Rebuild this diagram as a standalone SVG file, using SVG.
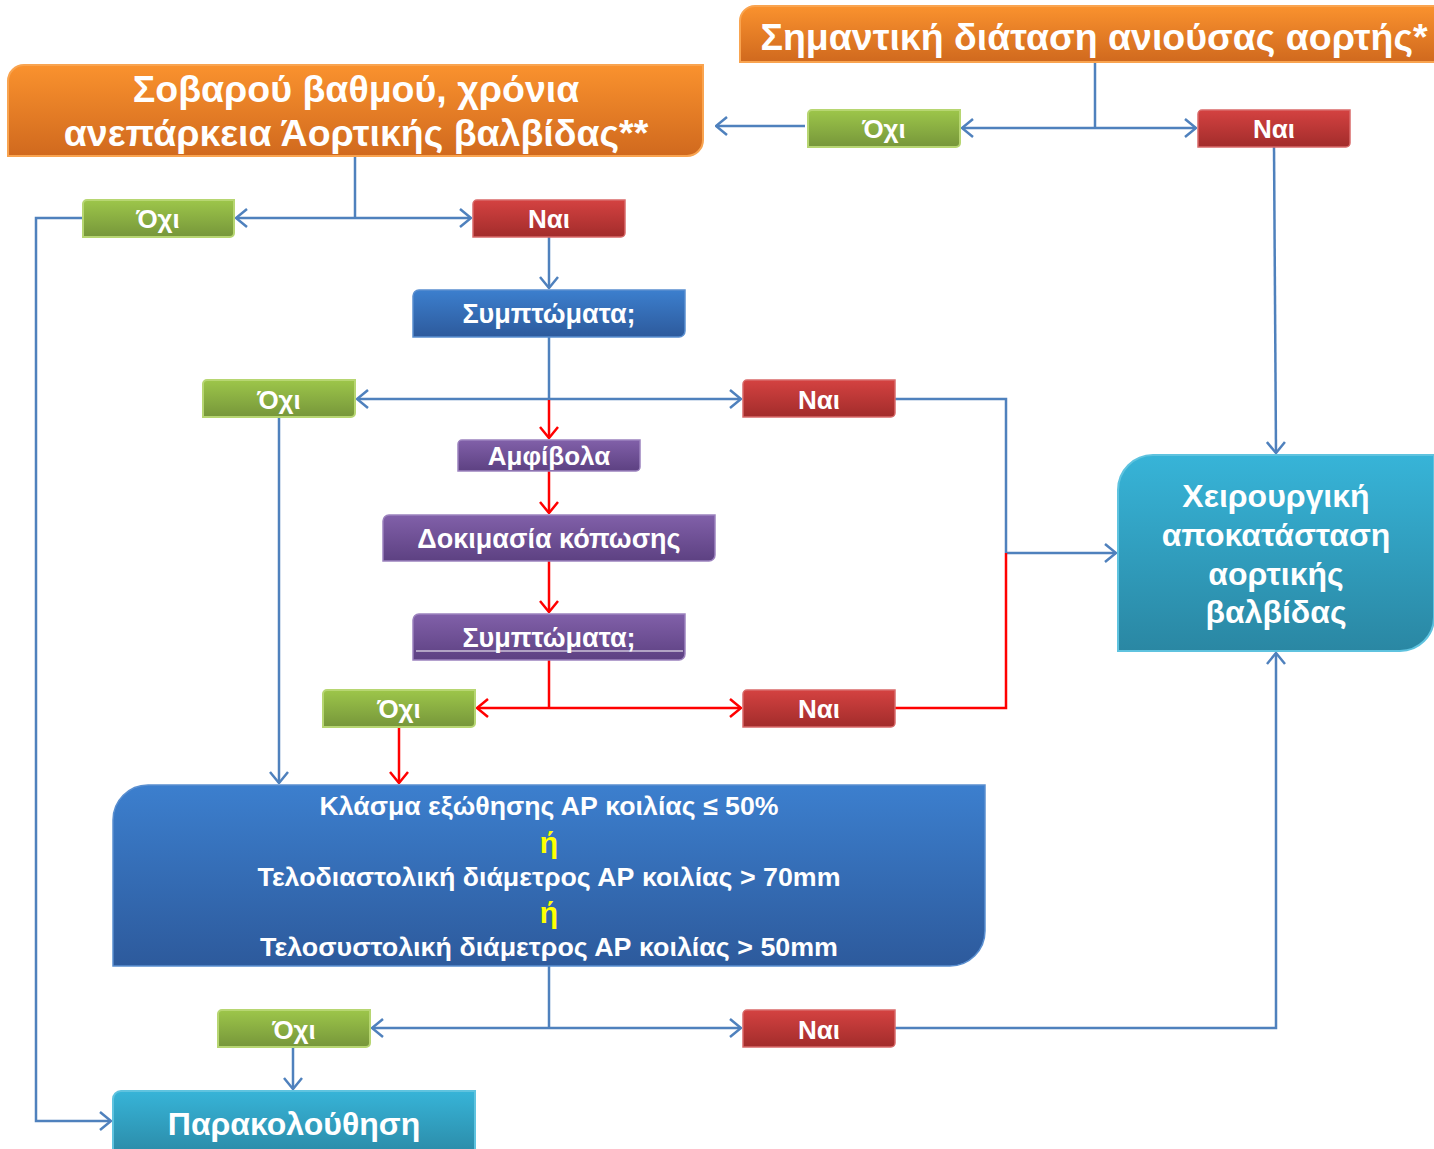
<svg xmlns="http://www.w3.org/2000/svg" width="1434" height="1149" viewBox="0 0 1434 1149">
<defs>
<linearGradient id="gOr" x1="0" y1="0" x2="0" y2="1"><stop offset="0" stop-color="#FA922E"/><stop offset="1" stop-color="#D0691E"/></linearGradient>
<linearGradient id="gGr" x1="0" y1="0" x2="0" y2="1"><stop offset="0" stop-color="#9DC64A"/><stop offset="1" stop-color="#76963A"/></linearGradient>
<linearGradient id="gRd" x1="0" y1="0" x2="0" y2="1"><stop offset="0" stop-color="#D44241"/><stop offset="1" stop-color="#A22C2B"/></linearGradient>
<linearGradient id="gBl" x1="0" y1="0" x2="0" y2="1"><stop offset="0" stop-color="#3C7FCE"/><stop offset="1" stop-color="#2D5A9C"/></linearGradient>
<linearGradient id="gPu" x1="0" y1="0" x2="0" y2="1"><stop offset="0" stop-color="#8160A9"/><stop offset="1" stop-color="#5D4182"/></linearGradient>
<linearGradient id="gTe" x1="0" y1="0" x2="0" y2="1"><stop offset="0" stop-color="#37B4D8"/><stop offset="1" stop-color="#2A87A3"/></linearGradient>
<marker id="aB" viewBox="0 0 13 20" refX="12" refY="10" markerWidth="13" markerHeight="20" markerUnits="userSpaceOnUse" orient="auto"><path d="M1,1 L12,10 L1,19" fill="none" stroke="#4F81BD" stroke-width="2.5"/></marker>
<marker id="aR" viewBox="0 0 13 20" refX="12" refY="10" markerWidth="13" markerHeight="20" markerUnits="userSpaceOnUse" orient="auto"><path d="M1,1 L12,10 L1,19" fill="none" stroke="#FF0000" stroke-width="2.5"/></marker>
</defs>
<style>
text{font-family:"Liberation Sans",Arial,sans-serif;font-weight:bold;fill:#fff;text-anchor:middle}
.or{fill:url(#gOr);stroke:#F9A450;stroke-width:2}
.gr{fill:url(#gGr);stroke:#B7D672;stroke-width:2}
.rd{fill:url(#gRd);stroke:#D96A69;stroke-width:1.5}
.bl{fill:url(#gBl);stroke:#5A8FD0;stroke-width:1.5}
.pu{fill:url(#gPu);stroke:#9C82BE;stroke-width:1.5}
.te{fill:url(#gTe);stroke:#5FC3DF;stroke-width:2}
.cb{fill:none;stroke:#4F81BD;stroke-width:2.5}
.cr{fill:none;stroke:#FF0000;stroke-width:2.5}
.big{font-size:37.5px}
.sm{font-size:26px}
.md{font-size:27px}
.cr2{font-size:26px}
.tl{font-size:32px}
.y{fill:#FFFF00}
</style>

<g id="connectors">
<path class="cb" d="M1095,62 V128"/>
<path class="cb" d="M1095,128 H962" marker-end="url(#aB)"/>
<path class="cb" d="M1095,128 H1196" marker-end="url(#aB)"/>
<path class="cb" d="M805,126 H716" marker-end="url(#aB)"/>
<path class="cb" d="M1274,147 L1276,453" marker-end="url(#aB)"/>
<path class="cb" d="M355,156 V218"/>
<path class="cb" d="M355,218 H236" marker-end="url(#aB)"/>
<path class="cb" d="M355,218 H471" marker-end="url(#aB)"/>
<path class="cb" d="M83,218 H36 V1121 H111" marker-end="url(#aB)"/>
<path class="cb" d="M549,237 V288" marker-end="url(#aB)"/>
<path class="cb" d="M549,337 V399"/>
<path class="cb" d="M549,399 H357" marker-end="url(#aB)"/>
<path class="cb" d="M549,399 H741" marker-end="url(#aB)"/>
<path class="cb" d="M895,399 H1006 V553"/>
<path class="cb" d="M1006,553 H1116" marker-end="url(#aB)"/>
<path class="cb" d="M279,417 V783" marker-end="url(#aB)"/>
<path class="cb" d="M549,966 V1028"/>
<path class="cb" d="M549,1028 H372" marker-end="url(#aB)"/>
<path class="cb" d="M549,1028 H741" marker-end="url(#aB)"/>
<path class="cb" d="M895,1028 H1276 V653" marker-end="url(#aB)"/>
<path class="cb" d="M293,1047 V1089" marker-end="url(#aB)"/>
<path class="cr" d="M549,400 V438" marker-end="url(#aR)"/>
<path class="cr" d="M549,471 V513" marker-end="url(#aR)"/>
<path class="cr" d="M549,561 V612" marker-end="url(#aR)"/>
<path class="cr" d="M549,660 V708"/>
<path class="cr" d="M549,708 H477" marker-end="url(#aR)"/>
<path class="cr" d="M549,708 H741" marker-end="url(#aR)"/>
<path class="cr" d="M1006,553 V708 H895"/>
<path class="cr" d="M399,727 V783" marker-end="url(#aR)"/>
</g>

<g id="n_aorta">
<path class="or" d="M755,6 H1440 V62 H740 V21 A15,15 0 0 1 755,6 Z"/>
<text class="big" x="1094" y="50">Σημαντική διάταση ανιούσας αορτής*</text>
</g>
<g id="n_severe">
<path class="or" d="M24,65 H703 V140 A16,16 0 0 1 687,156 H8 V81 A16,16 0 0 1 24,65 Z"/>
<text class="big" x="356" y="102">Σοβαρού βαθμού, χρόνια</text>
<text class="big" x="356" y="146">ανεπάρκεια Άορτικής βαλβίδας**</text>
</g>

<g id="n_no1"><path class="gr" d="M812,110 H960 V143 A4,4 0 0 1 956,147 H808 V114 A4,4 0 0 1 812,110 Z"/><text class="sm" x="884" y="138">Όχι</text></g>
<g id="n_yes1"><path class="rd" d="M1202,110 H1350 V143 A4,4 0 0 1 1346,147 H1198 V114 A4,4 0 0 1 1202,110 Z"/><text class="sm" x="1274" y="138">Ναι</text></g>
<g id="n_no2"><path class="gr" d="M87,200 H234 V233 A4,4 0 0 1 230,237 H83 V204 A4,4 0 0 1 87,200 Z"/><text class="sm" x="158" y="228">Όχι</text></g>
<g id="n_yes2"><path class="rd" d="M477,200 H625 V233 A4,4 0 0 1 621,237 H473 V204 A4,4 0 0 1 477,200 Z"/><text class="sm" x="549" y="228">Ναι</text></g>

<g id="n_symptoms1"><path class="bl" d="M419,290 H685 V331 A6,6 0 0 1 679,337 H413 V296 A6,6 0 0 1 419,290 Z"/><text class="md" x="549" y="323">Συμπτώματα;</text></g>

<g id="n_no3"><path class="gr" d="M207,380 H355 V413 A4,4 0 0 1 351,417 H203 V384 A4,4 0 0 1 207,380 Z"/><text class="sm" x="279" y="409">Όχι</text></g>
<g id="n_yes3"><path class="rd" d="M747,380 H895 V413 A4,4 0 0 1 891,417 H743 V384 A4,4 0 0 1 747,380 Z"/><text class="sm" x="819" y="409">Ναι</text></g>

<g id="n_doubt"><path class="pu" d="M462,440 H640 V467 A4,4 0 0 1 636,471 H458 V444 A4,4 0 0 1 462,440 Z"/><text class="sm" x="549" y="465">Αμφίβολα</text></g>
<g id="n_stress"><path class="pu" d="M389,515 H715 V555 A6,6 0 0 1 709,561 H383 V521 A6,6 0 0 1 389,515 Z"/><text class="md" x="549" y="548">Δοκιμασία κόπωσης</text></g>
<g id="n_symptoms2"><path class="pu" d="M419,614 H685 V654 A6,6 0 0 1 679,660 H413 V620 A6,6 0 0 1 419,614 Z"/><line x1="416" y1="651" x2="683" y2="651" stroke="#fff" stroke-width="1.2"/><text class="md" x="549" y="647">Συμπτώματα;</text></g>

<g id="n_no4"><path class="gr" d="M327,690 H475 V723 A4,4 0 0 1 471,727 H323 V694 A4,4 0 0 1 327,690 Z"/><text class="sm" x="399" y="718">Όχι</text></g>
<g id="n_yes4"><path class="rd" d="M747,690 H895 V723 A4,4 0 0 1 891,727 H743 V694 A4,4 0 0 1 747,690 Z"/><text class="sm" x="819" y="718">Ναι</text></g>

<g id="n_surgery">
<path class="te" d="M1153,455 H1434 V617 A34,34 0 0 1 1400,651 H1118 V490 A35,35 0 0 1 1153,455 Z"/>
<text class="tl" x="1276" y="507">Χειρουργική</text>
<text class="tl" x="1276" y="546">αποκατάσταση</text>
<text class="tl" x="1276" y="585">αορτικής</text>
<text class="tl" x="1276" y="623">βαλβίδας</text>
</g>

<g id="n_criteria">
<path class="bl" d="M148,785 H985 V931 A35,35 0 0 1 950,966 H113 V820 A35,35 0 0 1 148,785 Z"/>
<text class="cr2" x="549" y="815" textLength="459" lengthAdjust="spacingAndGlyphs">Κλάσμα εξώθησης ΑΡ κοιλίας ≤ 50%</text>
<text class="y" x="549" y="853" style="font-size:30px">ή</text>
<text class="cr2" x="549" y="886" textLength="583" lengthAdjust="spacingAndGlyphs">Τελοδιαστολική διάμετρος ΑΡ κοιλίας &gt; 70mm</text>
<text class="y" x="549" y="923" style="font-size:30px">ή</text>
<text class="cr2" x="549" y="956" textLength="578" lengthAdjust="spacingAndGlyphs">Τελοσυστολική διάμετρος ΑΡ κοιλίας &gt; 50mm</text>
</g>

<g id="n_no5"><path class="gr" d="M222,1010 H370 V1043 A4,4 0 0 1 366,1047 H218 V1014 A4,4 0 0 1 222,1010 Z"/><text class="sm" x="294" y="1039">Όχι</text></g>
<g id="n_yes5"><path class="rd" d="M747,1010 H895 V1043 A4,4 0 0 1 891,1047 H743 V1014 A4,4 0 0 1 747,1010 Z"/><text class="sm" x="819" y="1039">Ναι</text></g>

<g id="n_follow">
<path class="te" d="M121,1091 H475 V1160 H113 V1099 A8,8 0 0 1 121,1091 Z"/>
<text class="tl" x="294" y="1135">Παρακολούθηση</text>
</g>
</svg>
